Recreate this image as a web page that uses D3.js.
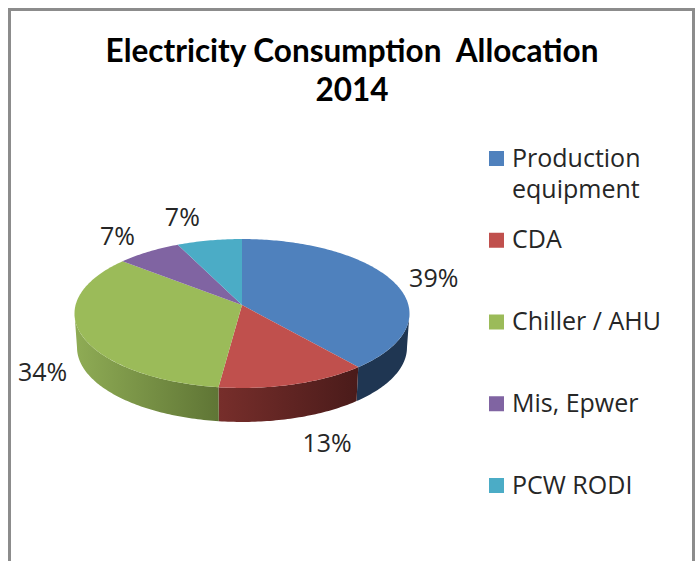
<!DOCTYPE html>
<html lang="en">
<head>
    <meta charset="UTF-8">
    <title>Electricity Consumption Allocation 2014</title>
    <script src="https://d3js.org/d3.v7.min.js"></script>
    <style>
        body {
            margin: 0;
            background-color: #ffffff;
        }

        svg {
            display: block;
        }

        .title {
            font-family: 'Lato', sans-serif;
            font-size: 31.5px;
            font-weight: bold;
            fill: #000000;
            text-anchor: middle;
        }

        .label, .legend text {
            font-family: 'Open Sans', sans-serif;
            font-size: 25px;
            fill: #262626;
        }

        .label {
            text-anchor: middle;
        }
    </style>
</head>
<body>
    <div id="chart"></div>

    <script>
        const titleLines = ["Electricity Consumption  Allocation", "2014"];
        const categories = ["Production equipment", "CDA", "Chiller / AHU", "Mis, Epwer", "PCW RODI"];
        const values = [39, 13, 34, 7, 7];
        const colors = ["#4f81bd", "#c0504d", "#9bbb59", "#8064a2", "#4bacc6"];
        const sideLeft = ["#1f3652", "#772e2b", "#8fac55", "#8064a2", "#4bacc6"];
        const sideRight = ["#1f3652", "#4a1b1a", "#5f7535", "#8064a2", "#4bacc6"];

        const width = 699;
        const height = 561;

        // tilted disc: apex sits above the middle of the ellipse because of the perspective
        const cx = 242, cy = 305;
        const rx = 166.4, ry = 73.5, persp = 0.114;
        const depth = 34, bottomShrink = 0.985;

        // where each percent label sits, relative to the rim at the slice's middle
        const labelOffsets = [[41, 6], [33, 68], [-38, 48], [-31, -7], [-27, -14]];

        const svg = d3.select("#chart")
            .append("svg")
            .attr("width", width)
            .attr("height", height);

        // frame, open at the bottom like the cropped original
        svg.append("path")
            .attr("d", d3.line()([[9.5, height], [9.5, 9.5], [693.5, 9.5], [693.5, height]]))
            .attr("fill", "none")
            .attr("stroke", "#8c8c8c")
            .attr("stroke-width", 3);

        svg.selectAll(".title")
            .data(titleLines)
            .enter()
            .append("text")
            .attr("class", "title")
            .attr("x", 352)
            .attr("y", (d, i) => 62 + i * 39)
            .style("white-space", "pre")
            .text(d => d);

        const pie = d3.pie().sort(null).value(d => d);
        const slices = pie(values);

        function rim(a) {
            const X = Math.sin(a), Y = -Math.cos(a);
            const w = 1 - persp * Y;
            return [cx + rx * X / w, cy + ry * Y / w];
        }

        function lowerRim(a) {
            const p = rim(a);
            return [cx + (p[0] - cx) * bottomShrink, p[1] + depth];
        }

        function arcAngles(a0, a1) {
            const n = Math.max(2, Math.ceil((a1 - a0) * 60));
            return d3.range(n + 1).map(i => a0 + (a1 - a0) * i / n);
        }

        const line = d3.line();
        const defs = svg.append("defs");

        // side wall shows only between the two silhouette points of the ellipse
        const sideStart = Math.acos(-persp);
        const sideEnd = 2 * Math.PI - sideStart;

        slices.forEach((s, i) => {
            const a0 = Math.max(s.startAngle, sideStart);
            const a1 = Math.min(s.endAngle, sideEnd);
            if (a1 <= a0) return;

            const angles = arcAngles(a0, a1);
            const top = angles.map(rim);
            const bottom = angles.map(lowerRim).reverse();
            const xs = top.concat(bottom).map(p => p[0]);

            const grad = defs.append("linearGradient")
                .attr("id", "side" + i)
                .attr("gradientUnits", "userSpaceOnUse")
                .attr("x1", d3.min(xs))
                .attr("x2", d3.max(xs))
                .attr("y1", 0)
                .attr("y2", 0);
            grad.append("stop").attr("offset", 0).attr("stop-color", sideLeft[i]);
            grad.append("stop").attr("offset", 1).attr("stop-color", sideRight[i]);

            svg.append("path")
                .attr("d", line(top.concat(bottom)) + "Z")
                .attr("fill", `url(#side${i})`);
        });

        svg.selectAll(".slice")
            .data(slices)
            .enter()
            .append("path")
            .attr("class", "slice")
            .attr("d", d => line([[cx, cy]].concat(arcAngles(d.startAngle, d.endAngle).map(rim))) + "Z")
            .attr("fill", (d, i) => colors[i]);

        svg.selectAll(".label")
            .data(slices)
            .enter()
            .append("text")
            .attr("class", "label")
            .attr("x", (d, i) => rim((d.startAngle + d.endAngle) / 2)[0] + labelOffsets[i][0])
            .attr("y", (d, i) => rim((d.startAngle + d.endAngle) / 2)[1] + labelOffsets[i][1])
            .text(d => d.value + "%");

        // legend
        const legendY = d3.scalePoint()
            .domain(categories)
            .range([158.5, 485.5]);

        const legend = svg.selectAll(".legend")
            .data(categories)
            .enter()
            .append("g")
            .attr("class", "legend")
            .attr("transform", d => `translate(489,${legendY(d)})`);

        legend.append("rect")
            .attr("y", -7.5)
            .attr("width", 15)
            .attr("height", 15)
            .attr("fill", (d, i) => colors[i]);

        legend.append("text")
            .attr("x", 23)
            .attr("y", 8)
            .each(function(d) {
                // the first entry wraps onto two lines
                const words = d === categories[0] ? d.split(" ") : [d];
                d3.select(this).selectAll("tspan")
                    .data(words)
                    .enter()
                    .append("tspan")
                    .attr("x", 23)
                    .attr("dy", (w, i) => i ? 31.5 : 0)
                    .text(w => w);
            });
    </script>
</body>
</html>
